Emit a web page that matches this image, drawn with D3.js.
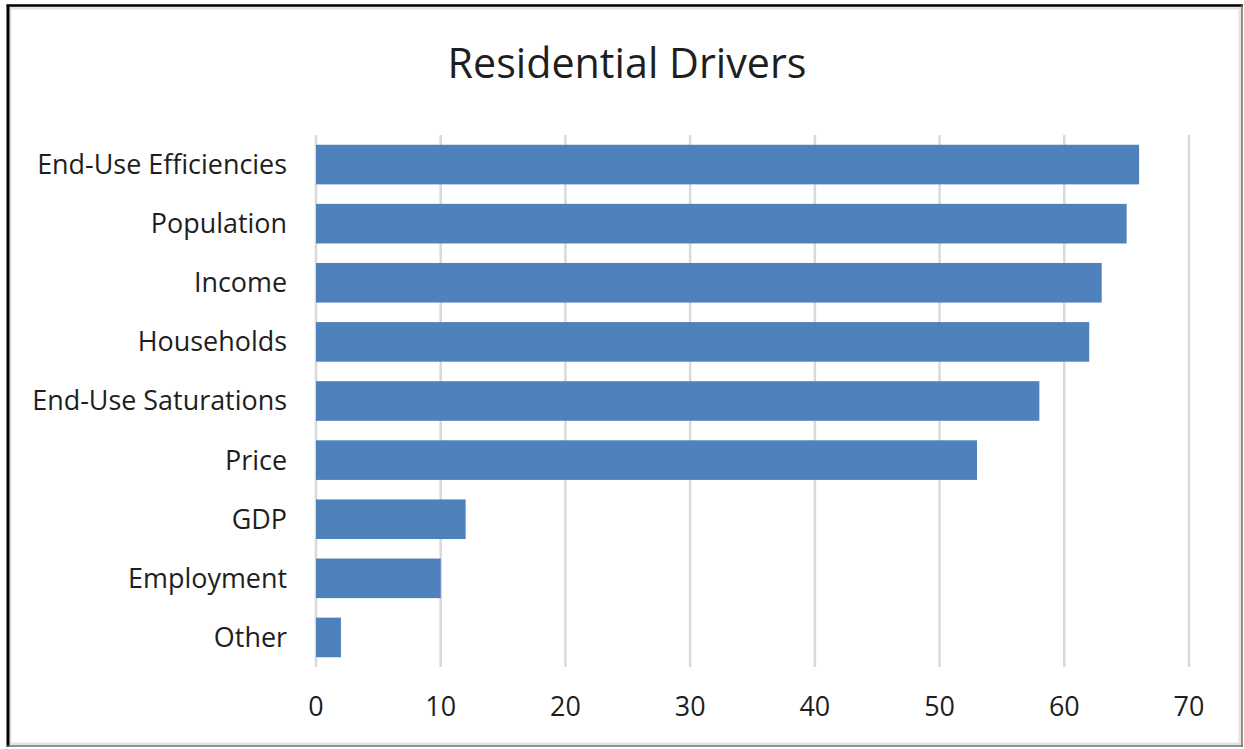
<!DOCTYPE html>
<html>
<head>
<meta charset="utf-8">
<script src="https://cdn.jsdelivr.net/npm/d3@7"></script>
<style>
  html, body { margin: 0; padding: 0; background: #fff; }
  svg { display: block; }
  text { font-family: "Open Sans", "Noto Sans", sans-serif; fill: #1e1e1e; }
</style>
</head>
<body>
<svg id="chart" width="1244" height="749"></svg>
<script>
// Residential load-forecast drivers (count of mentions)
const categories = [
  "End-Use Efficiencies", "Population", "Income", "Households",
  "End-Use Saturations", "Price", "GDP", "Employment", "Other"
];
const values = [66, 65, 63, 62, 58, 53, 12, 10, 2];
const xTicks = [0, 10, 20, 30, 40, 50, 60, 70];
const title = "Residential Drivers";

const W = 1244, H = 749;
const plot = { left: 316, right: 1189, top: 135, bottom: 667 };

const svg = d3.select("#chart");

// Outer frame: dark top/left edge, thin grey right/bottom edge, light inner rim
svg.append("rect").attr("x", 0).attr("y", 0).attr("width", W).attr("height", H).attr("fill", "#fff");
svg.append("rect")
  .attr("x", 10).attr("y", 8).attr("width", 1230).attr("height", 736)
  .attr("fill", "none").attr("stroke", "#e3e3e3").attr("stroke-width", 3);
svg.append("line").attr("x1", 6.5).attr("x2", 1243).attr("y1", 5.5).attr("y2", 5.5)
  .attr("stroke", "#000").attr("stroke-width", 2.5);
svg.append("line").attr("x1", 8).attr("x2", 8).attr("y1", 5).attr("y2", 747)
  .attr("stroke", "#000").attr("stroke-width", 3);
svg.append("line").attr("x1", 1242).attr("x2", 1242).attr("y1", 5).attr("y2", 747)
  .attr("stroke", "#6e6e6e").attr("stroke-width", 1.5);
svg.append("line").attr("x1", 7).attr("x2", 1243).attr("y1", 746).attr("y2", 746)
  .attr("stroke", "#6e6e6e").attr("stroke-width", 1.5);

const x = d3.scaleLinear().domain([0, 70]).range([plot.left, plot.right]);
const y = d3.scaleBand().domain(categories).range([plot.top, plot.bottom])
  .paddingInner(0.33).paddingOuter(0.165);

// Fit label font size so the longest category label spans ~250px
function fitSize(str, target, base) {
  const t = svg.append("text").attr("font-size", base).text(str);
  const w = t.node().getComputedTextLength();
  t.remove();
  return base * target / w;
}
const labelSize = fitSize("End-Use Efficiencies", 250, 22);
const titleSize = fitSize(title, 359, 32);

// Title
svg.append("text")
  .attr("x", 627).attr("y", 78)
  .attr("text-anchor", "middle")
  .attr("font-size", titleSize)
  .text(title);

// Vertical gridlines
svg.append("g").selectAll("line").data(xTicks).join("line")
  .attr("x1", d => x(d)).attr("x2", d => x(d))
  .attr("y1", plot.top).attr("y2", plot.bottom)
  .attr("stroke", "#d9d9d9").attr("stroke-width", 2.5);

// Bars
svg.append("g").selectAll("rect").data(categories).join("rect")
  .attr("x", x(0))
  .attr("y", d => y(d))
  .attr("width", (d, i) => x(values[i]) - x(0))
  .attr("height", y.bandwidth())
  .attr("fill", "#4f81bd");

// Category labels
svg.append("g").selectAll("text").data(categories).join("text")
  .attr("x", 287)
  .attr("y", d => y(d) + y.bandwidth() / 2)
  .attr("dy", "0.35em")
  .attr("text-anchor", "end")
  .attr("font-size", labelSize)
  .text(d => d);

// X tick labels
svg.append("g").selectAll("text").data(xTicks).join("text")
  .attr("x", d => x(d))
  .attr("y", 707)
  .attr("dy", "0.35em")
  .attr("text-anchor", "middle")
  .attr("font-size", labelSize)
  .text(d => d);
</script>
</body>
</html>
